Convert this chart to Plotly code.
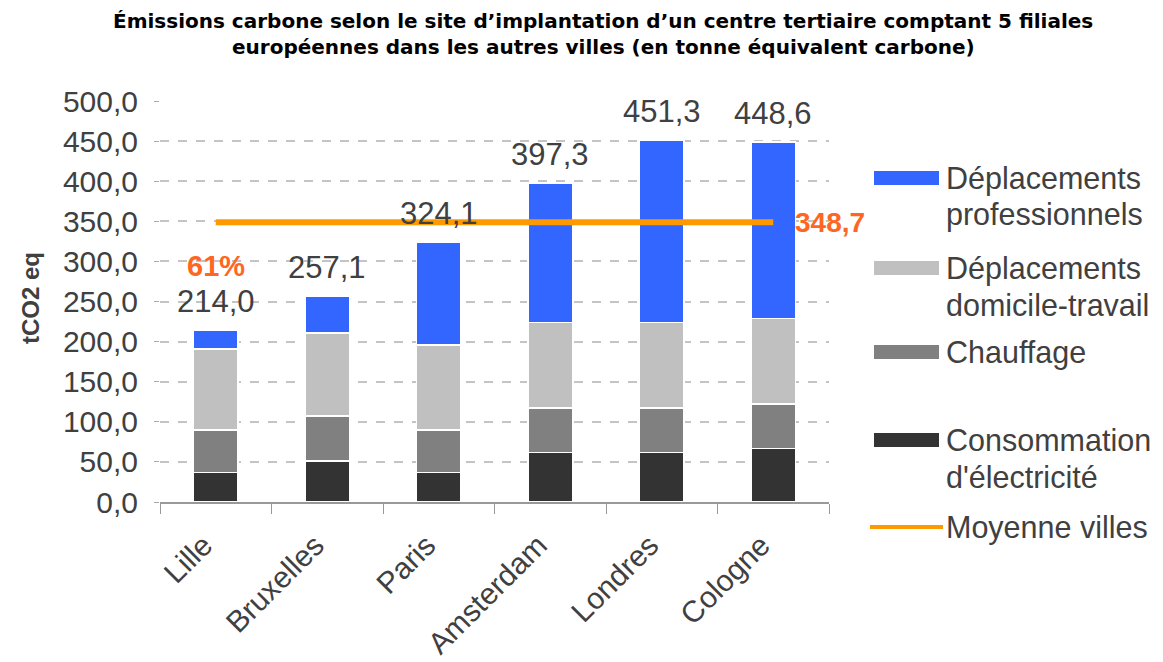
import plotly.graph_objects as go

# ---- data ----
villes = ["Lille", "Bruxelles", "Paris", "Amsterdam", "Londres", "Cologne"]
electricite = [37.0, 51.0, 37.0, 62.0, 62.0, 67.0]
chauffage = [53.0, 56.0, 53.0, 55.0, 55.0, 55.0]
domicile_travail = [101.0, 104.0, 106.0, 107.0, 107.0, 107.0]
deplacements_pro = [23.0, 46.1, 128.1, 173.3, 227.3, 219.6]
part_lille = "61%"

series_names = ["Consommation d'électricité", "Chauffage",
                "Déplacements domicile-travail", "Déplacements professionnels"]
series_values = [electricite, chauffage, domicile_travail, deplacements_pro]
series_colors = ["#333333", "#808080", "#C0C0C0", "#3366FF"]

legend_labels = [["Déplacements", "professionnels"], ["Déplacements", "domicile-travail"],
                 ["Chauffage"], ["Consommation", "d'électricité"], ["Moyenne villes"]]
legend_colors = ["#3366FF", "#C0C0C0", "#808080", "#333333", "#FF9900"]

title_lines = ["Émissions carbone selon le site d’implantation d’un centre tertiaire comptant 5 filiales",
               "européennes dans les autres villes (en tonne équivalent carbone)"]

totaux = [round(sum(v), 1) for v in zip(*series_values)]
moyenne = sum(totaux) / len(totaux)

def fr(v):
    return f"{v:.1f}".replace(".", ",")

# ---- layout geometry (page pixels; page body adds an 8px offset) ----
OFF = 8
W_PAGE, H_PAGE = 1163, 662
L, R, T, B = 160 - OFF, 829 - OFF, 101 - OFF, 502 - OFF
PW, PH = R - L, B - T

def px(x):
    return (x - OFF - L) / PW

def py(y):
    return (B - (y - OFF)) / PH

FONT = "Liberation Sans, Arial, sans-serif"
TXT = "#404040"

fig = go.Figure()
for name, vals, col in zip(series_names, series_values, series_colors):
    fig.add_trace(go.Bar(
        x=villes, y=vals, name=name, marker_color=col,
        marker_line_color="white", marker_line_width=1.5,
        showlegend=False, hoverinfo="x+y+name"))

fig.add_trace(go.Scatter(
    x=villes, y=[moyenne] * len(villes), mode="lines", name="Moyenne villes",
    line=dict(color="#FF9900", width=6), showlegend=False))

annotations = []
for v, t in zip(villes, totaux):
    annotations.append(dict(x=v, y=t, text=fr(t), showarrow=False, yanchor="bottom",
                            yshift=9, font=dict(family=FONT, size=31, color=TXT)))
annotations.append(dict(x=villes[-1], y=moyenne, text=fr(moyenne), showarrow=False,
                        xanchor="left", xshift=20,
                        font=dict(family=FONT, size=28, color="#FF6622", weight="bold")))
annotations.append(dict(x=villes[0], y=totaux[0], text=part_lille, showarrow=False,
                        yanchor="bottom", yshift=46,
                        font=dict(family=FONT, size=29, color="#FF6622", weight="bold")))

# title
for i, line in enumerate(title_lines):
    annotations.append(dict(xref="paper", yref="paper", x=px(603), y=py(21 + 26 * i),
                            text=line, showarrow=False, xanchor="center", yanchor="middle",
                            font=dict(family="DejaVu Sans, Verdana, sans-serif", size=20,
                                      color="black", weight="bold")))

# y-axis title
annotations.append(dict(xref="paper", yref="paper", x=px(30), y=py(298), text="tCO2 eq",
                        textangle=-90, showarrow=False, xanchor="center", yanchor="middle",
                        font=dict(family=FONT, size=24, color=TXT, weight="bold")))

# manual legend
shapes = []
sym_y = [178, 268, 352, 440, 527]
line_gap = 37
for i, (lines, col) in enumerate(zip(legend_labels, legend_colors)):
    if i < 4:
        shapes.append(dict(type="rect", xref="paper", yref="paper",
                           x0=px(874), x1=px(939), y0=py(sym_y[i] + 7), y1=py(sym_y[i] - 7),
                           fillcolor=col, line=dict(color=col, width=0)))
    else:
        shapes.append(dict(type="line", xref="paper", yref="paper",
                           x0=px(870), x1=px(943), y0=py(sym_y[i]), y1=py(sym_y[i]),
                           line=dict(color=col, width=4)))
    for j, lab in enumerate(lines):
        annotations.append(dict(xref="paper", yref="paper", x=px(944),
                                y=py(sym_y[i] + j * line_gap),
                                text=lab, showarrow=False, xanchor="left", yanchor="middle",
                                align="left",
                                font=dict(family=FONT, size=30.5, color=TXT)))

fig.update_layout(
    width=W_PAGE, height=H_PAGE,
    margin=dict(l=L, r=W_PAGE - R, t=T, b=H_PAGE - B, autoexpand=False),
    paper_bgcolor="white", plot_bgcolor="white",
    barmode="stack", bargap=0.6,
    separators=", ",
    annotations=annotations, shapes=shapes,
    font=dict(family=FONT, color=TXT),
)
fig.update_xaxes(
    automargin=False, range=[-0.5, len(villes) - 0.5],
    showline=True, linecolor="#999999", linewidth=1.5,
    ticks="outside", tickson="boundaries", ticklen=10, tickcolor="#999999",
    tickangle=-45, tickfont=dict(family=FONT, size=30, color=TXT),
    ticklabelstandoff=12, ticklabelshift=-12,
    showgrid=False)
fig.update_yaxes(
    automargin=False,
    range=[0, 500], dtick=50, tickformat=".1f",
    showgrid=True, gridcolor="#C4C4C4", gridwidth=1.5, griddash="dash",
    zeroline=False, showline=False,
    ticks="outside", ticklen=5, tickcolor="#AAAAAA",
    ticklabelstandoff=10,
    tickfont=dict(family=FONT, size=30, color=TXT))

fig.write_html("out.html")
